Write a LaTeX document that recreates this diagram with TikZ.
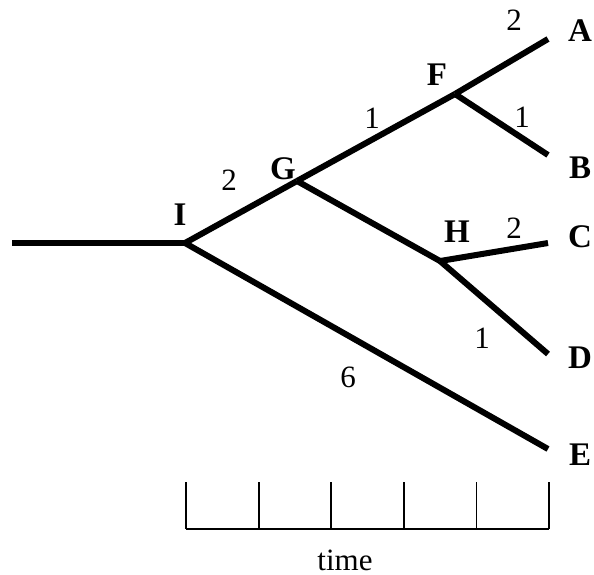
\documentclass[tikz,border=0pt]{standalone}
\usepackage{fontspec}
\setmainfont{Liberation Serif}
\usetikzlibrary{positioning}

\begin{document}
\begin{tikzpicture}[x=0.5pt, y=-0.5pt]
  \tikzstyle{branch}=[line width=3pt]
  \tikzstyle{taxon}=[font=\fontsize{16.5}{18}\selectfont\bfseries, inner sep=0pt]
  \tikzstyle{blen}=[font=\fontsize{15.5}{17}\selectfont, inner sep=0pt]
  \tikzstyle{axis}=[line width=0.9pt]

  \useasboundingbox (0,0) rectangle (594,574);

  % tree
  \coordinate (root) at (12,243);
  \coordinate (I) at (185,243);
  \coordinate (G) at (297,181);
  \coordinate (F) at (455,94);
  \coordinate (H) at (440,261);
  \coordinate (A) at (548,39);
  \coordinate (B) at (548,155);
  \coordinate (C) at (548,243);
  \coordinate (D) at (548,354);
  \coordinate (E) at (548,449);

  \draw[branch] (root) -- (I);
  \draw[branch] (I) -- (G);
  \draw[branch] (I) -- (E);
  \draw[branch] (G) -- (F);
  \draw[branch] (G) -- (H);
  \draw[branch] (F) -- (A);
  \draw[branch] (F) -- (B);
  \draw[branch] (H) -- (C);
  \draw[branch] (H) -- (D);

  \node[taxon] (labI) at (180,215) {I};
  \node[taxon] (labG) at (283,169) {G};
  \node[taxon] (labF) at (437,75) {F};
  \node[taxon] (labH) at (457,232) {H};
  \node[taxon] (labA) at (580,31) {A};
  \node[taxon] (labB) at (580,168) {B};
  \node[taxon] (labC) at (580,237) {C};
  \node[taxon] (labD) at (580,358) {D};
  \node[taxon] (labE) at (580,455) {E};

  % branch lengths
  \node[blen] (lenIG) at (229,180) {2};
  \node[blen] (lenGF) at (372,118) {1};
  \node[blen] (lenFA) at (514,20) {2};
  \node[blen] (lenFB) at (522,117) {1};
  \node[blen] (lenHC) at (514,228) {2};
  \node[blen] (lenHD) at (482,338) {1};
  \node[blen] (lenIE) at (348,377) {6};

  % time axis
  \draw[axis] (186,529) -- (549,529);
  \foreach \k in {0,...,5}
    \draw[axis] (186+72.6*\k,482) -- (186+72.6*\k,529);
  \node[blen] (time) at (345,560) {time};
\end{tikzpicture}
\end{document}
